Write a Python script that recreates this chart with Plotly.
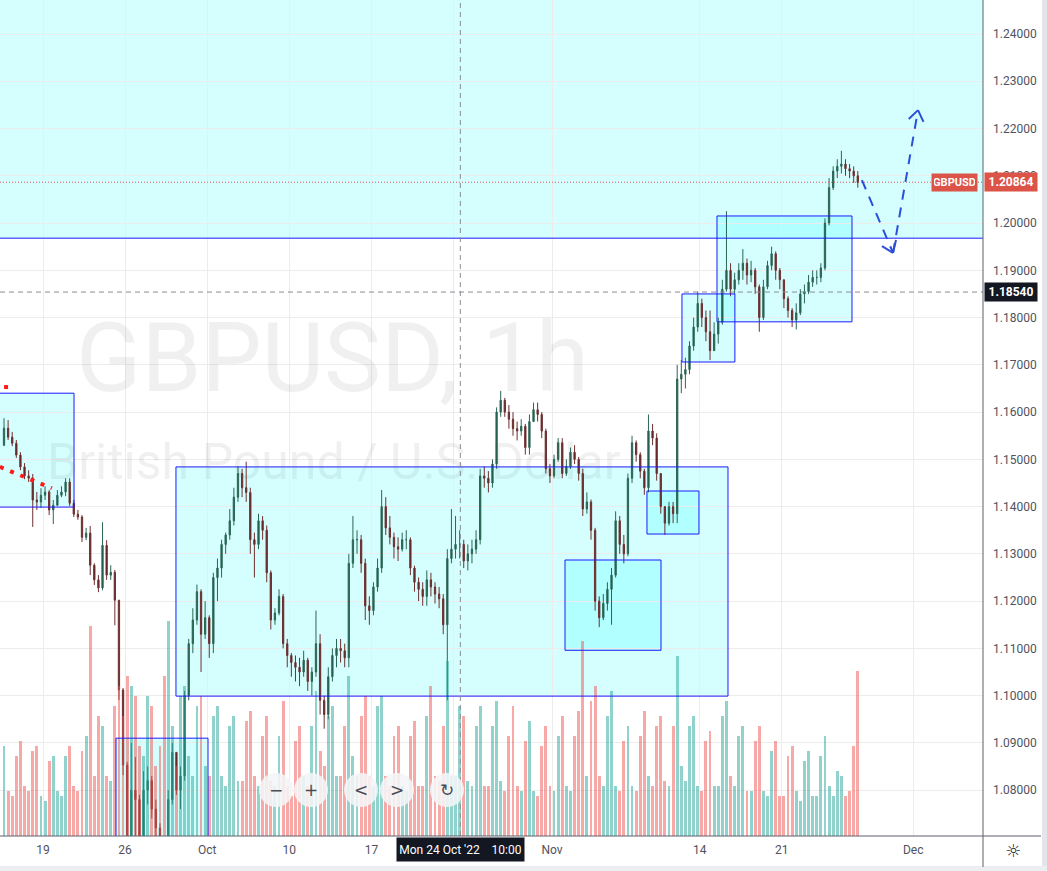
import plotly.graph_objects as go
import pandas as pd

# ---------------- data (6-hour bars) ----------------
first_open = 1.1530
close = [1.1566, 1.1547,
         1.1534, 1.1509, 1.1484, 1.1465,
         1.1460, 1.1414, 1.1410, 1.1424,
         1.1431, 1.1393, 1.1403, 1.1424,
         1.1431, 1.1452, 1.1407, 1.1384,
         1.1378, 1.1335, 1.1344, 1.1276,
         1.1245, 1.1228, 1.1318, 1.1255,
         1.1261, 1.1202, 1.1012, 1.0853,
         1.0700, 1.0800, 1.0780, 1.0690,
         1.0800, 1.0820, 1.0760, 1.0720,
         1.0640, 1.0600, 1.0780, 1.0880,
         1.0800, 1.0830, 1.1000, 1.1110,
         1.1160, 1.1220, 1.1130, 1.1165,
         1.1110, 1.1250, 1.1270, 1.1320,
         1.1340, 1.1370, 1.1420, 1.1470,
         1.1440, 1.1430, 1.1330, 1.1320,
         1.1370, 1.1350, 1.1260, 1.1160,
         1.1175, 1.1210, 1.1110, 1.1085,
         1.1070, 1.1060, 1.1050, 1.1075,
         1.1030, 1.1050, 1.1110, 1.0990,
         1.0960, 1.1040, 1.1085, 1.1100,
         1.1095, 1.1080, 1.1280, 1.1330,
         1.1330, 1.1280, 1.1190, 1.1180,
         1.1230, 1.1270, 1.1400, 1.1355,
         1.1335, 1.1315, 1.1310, 1.1330,
         1.1330, 1.1270, 1.1240, 1.1225,
         1.1210, 1.1245, 1.1230, 1.1215,
         1.1205, 1.1150, 1.1290, 1.1310,
         1.1320, 1.1320, 1.1285, 1.1300,
         1.1310, 1.1330, 1.1465, 1.1460,
         1.1450, 1.1490, 1.1600, 1.1625,
         1.1600, 1.1585, 1.1565, 1.1560,
         1.1570, 1.1525, 1.1580, 1.1605,
         1.1595, 1.1560, 1.1480, 1.1465,
         1.1500, 1.1535, 1.1470, 1.1485,
         1.1515, 1.1500, 1.1470, 1.1395,
         1.1410, 1.1350, 1.1200, 1.1165,
         1.1195, 1.1225, 1.1255, 1.1370,
         1.1320, 1.1300, 1.1460, 1.1535,
         1.1510, 1.1475, 1.1440, 1.1560,
         1.1545, 1.1470, 1.1400, 1.1365,
         1.1400, 1.1385, 1.1670, 1.1680,
         1.1690, 1.1740, 1.1780, 1.1830,
         1.1800, 1.1770, 1.1730, 1.1765,
         1.1790, 1.1860, 1.1900, 1.1860,
         1.1880, 1.1900, 1.1915, 1.1890,
         1.1900, 1.1865, 1.1800, 1.1865,
         1.1910, 1.1935, 1.1900, 1.1880,
         1.1840, 1.1815, 1.1795, 1.1810,
         1.1850, 1.1855, 1.1875, 1.1885,
         1.1885, 1.1905, 1.2000, 1.2075,
         1.2110, 1.2120, 1.2125, 1.2115,
         1.2110, 1.2100, 1.2086]
high = [1.1587, 1.1583,
        1.1558, 1.1541, 1.1515, 1.1492,
        1.1477, 1.1469, 1.1431, 1.1439,
        1.1443, 1.1435, 1.1414, 1.1435,
        1.1443, 1.1460, 1.1460, 1.1414,
        1.1393, 1.1382, 1.1355, 1.1359,
        1.1280, 1.1255, 1.1367, 1.1329,
        1.1276, 1.1266, 1.1202, 1.1016,
        1.0860, 1.0900, 1.0870, 1.0790,
        1.0840, 1.0850, 1.0830, 1.0780,
        1.0730, 1.0660, 1.0800, 1.0900,
        1.0880, 1.0850, 1.1010, 1.1120,
        1.1185, 1.1235, 1.1225, 1.1200,
        1.1170, 1.1260, 1.1290, 1.1330,
        1.1345, 1.1395, 1.1440, 1.1485,
        1.1480, 1.1495, 1.1440, 1.1345,
        1.1385, 1.1380, 1.1360, 1.1265,
        1.1185, 1.1225, 1.1215, 1.1120,
        1.1090, 1.1085, 1.1080, 1.1095,
        1.1080, 1.1060, 1.1180, 1.1130,
        1.1000, 1.1060, 1.1100, 1.1120,
        1.1120, 1.1110, 1.1300, 1.1380,
        1.1350, 1.1340, 1.1290, 1.1210,
        1.1240, 1.1290, 1.1435, 1.1420,
        1.1380, 1.1345, 1.1335, 1.1345,
        1.1350, 1.1335, 1.1275, 1.1250,
        1.1240, 1.1265, 1.1260, 1.1240,
        1.1230, 1.1215, 1.1310, 1.1395,
        1.1380, 1.1350, 1.1330, 1.1320,
        1.1330, 1.1350, 1.1480, 1.1485,
        1.1475, 1.1500, 1.1610, 1.1645,
        1.1630, 1.1615, 1.1600, 1.1580,
        1.1585, 1.1575, 1.1595, 1.1620,
        1.1620, 1.1600, 1.1565, 1.1490,
        1.1510, 1.1545, 1.1545, 1.1500,
        1.1525, 1.1530, 1.1505, 1.1480,
        1.1430, 1.1415, 1.1355, 1.1210,
        1.1215, 1.1240, 1.1270, 1.1390,
        1.1380, 1.1340, 1.1470, 1.1550,
        1.1540, 1.1515, 1.1480, 1.1595,
        1.1575, 1.1555, 1.1470, 1.1400,
        1.1410, 1.1410, 1.1700, 1.1710,
        1.1715, 1.1750, 1.1800, 1.1855,
        1.1840, 1.1815, 1.1815, 1.1790,
        1.1800, 1.1880, 1.2025, 1.1915,
        1.1895, 1.1915, 1.1945, 1.1925,
        1.1920, 1.1905, 1.1870, 1.1880,
        1.1920, 1.1950, 1.1940, 1.1905,
        1.1880, 1.1845, 1.1820, 1.1830,
        1.1860, 1.1870, 1.1890, 1.1900,
        1.1900, 1.1915, 1.2010, 1.2095,
        1.2120, 1.2135, 1.2153, 1.2135,
        1.2125, 1.2120, 1.2110]
low = [1.1528, 1.1541,
       1.1528, 1.1503, 1.1477, 1.1458,
       1.1452, 1.1357, 1.1393, 1.1397,
       1.1414, 1.1382, 1.1363, 1.1401,
       1.1420, 1.1422, 1.1401, 1.1378,
       1.1372, 1.1325, 1.1329, 1.1255,
       1.1234, 1.1219, 1.1223, 1.1245,
       1.1245, 1.1149, 1.0991, 1.0832,
       1.0350, 1.0650, 1.0700, 1.0650,
       1.0680, 1.0770, 1.0740, 1.0690,
       1.0610, 1.0540, 1.0580, 1.0770,
       1.0790, 1.0760, 1.0820, 1.0990,
       1.1090, 1.1150, 1.1050, 1.1120,
       1.1080, 1.1090, 1.1200, 1.1250,
       1.1300, 1.1330, 1.1360, 1.1410,
       1.1420, 1.1410, 1.1300, 1.1250,
       1.1310, 1.1330, 1.1240, 1.1140,
       1.1150, 1.1170, 1.1100, 1.1060,
       1.1040, 1.1030, 1.1020, 1.1040,
       1.1010, 1.1000, 1.1040, 1.0960,
       1.0930, 1.0950, 1.1030, 1.1060,
       1.1070, 1.1060, 1.1060, 1.1270,
       1.1300, 1.1260, 1.1160, 1.1150,
       1.1170, 1.1220, 1.1260, 1.1340,
       1.1320, 1.1290, 1.1285, 1.1305,
       1.1310, 1.1255, 1.1220, 1.1200,
       1.1190, 1.1190, 1.1210, 1.1195,
       1.1185, 1.1130, 1.0990, 1.1280,
       1.1290, 1.1290, 1.1270, 1.1265,
       1.1280, 1.1300, 1.1320, 1.1440,
       1.1430, 1.1440, 1.1480, 1.1590,
       1.1590, 1.1565, 1.1550, 1.1540,
       1.1550, 1.1510, 1.1510, 1.1580,
       1.1580, 1.1545, 1.1470, 1.1450,
       1.1460, 1.1495, 1.1460, 1.1465,
       1.1480, 1.1490, 1.1455, 1.1380,
       1.1385, 1.1330, 1.1180, 1.1145,
       1.1160, 1.1180, 1.1150, 1.1250,
       1.1300, 1.1280, 1.1295, 1.1450,
       1.1495, 1.1460, 1.1425, 1.1430,
       1.1530, 1.1455, 1.1385, 1.1340,
       1.1360, 1.1365, 1.1365, 1.1640,
       1.1650, 1.1680, 1.1730, 1.1770,
       1.1780, 1.1750, 1.1710, 1.1730,
       1.1745, 1.1785, 1.1855, 1.1845,
       1.1850, 1.1870, 1.1880, 1.1870,
       1.1875, 1.1850, 1.1770, 1.1795,
       1.1860, 1.1900, 1.1880, 1.1860,
       1.1820, 1.1800, 1.1780, 1.1775,
       1.1805, 1.1830, 1.1850, 1.1865,
       1.1870, 1.1875, 1.1900, 1.1995,
       1.2070, 1.2095, 1.2105, 1.2100,
       1.2095, 1.2085, 1.2075]
volume = [900, 450,
          400, 800, 950, 500,
          450, 850, 900, 400,
          350, 750, 800, 450,
          400, 800, 900, 500,
          450, 850, 1000, 2100,
          600, 1200, 1100, 600,
          550, 1300, 1500, 1200,
          1600, 1500, 1400, 900,
          800, 1400, 1300, 700,
          900, 1600, 2150, 1100,
          700, 1400, 1500, 800,
          600, 1300, 1400, 700,
          600, 1200, 1300, 600,
          500, 1100, 1200, 550,
          550, 1150, 1250, 600,
          500, 1000, 1200, 550,
          500, 1000, 1350, 500,
          400, 950, 1100, 600,
          500, 1100, 1450, 850,
          700, 1200, 1300, 600,
          600, 1100, 1600, 800,
          600, 1200, 1400, 600,
          500, 1300, 1400, 600,
          500, 1000, 1100, 500,
          450, 1000, 1150, 500,
          500, 1200, 1500, 600,
          550, 1100, 1750, 600,
          600, 1300, 1200, 550,
          500, 1100, 1300, 500,
          500, 1100, 1350, 550,
          450, 1000, 1300, 500,
          450, 950, 1150, 450,
          400, 900, 1100, 500,
          450, 1000, 1200, 500,
          450, 1000, 1250, 1950,
          600, 1350, 1500, 600,
          500, 1200, 1450, 500,
          450, 950, 1100, 500,
          450, 1000, 1250, 600,
          500, 1100, 1200, 550,
          500, 1100, 1800, 700,
          550, 1100, 1200, 500,
          450, 950, 1050, 500,
          500, 1200, 1350, 600,
          500, 1000, 1100, 450,
          450, 950, 1100, 450,
          400, 850, 950, 400,
          400, 800, 900, 450,
          350, 750, 850, 400,
          400, 800, 1000, 500,
          400, 650, 600, 400,
          450, 900, 1650]

x_tick_dates = ["2022-09-19", "2022-09-26", "2022-10-03", "2022-10-10", "2022-10-17",
                "2022-10-24", "2022-11-01", "2022-11-14", "2022-11-21", "2022-12-01"]
# the "24" label sits under the crosshair time label in the reference, so it is left blank
x_tick_text = ["19", "26", "Oct", "10", "17", "", "Nov", "14", "21", "Dec"]
y_ticks = [1.08, 1.09, 1.10, 1.11, 1.12, 1.13, 1.14, 1.15, 1.16, 1.17,
           1.18, 1.19, 1.20, 1.21, 1.22, 1.23, 1.24]

last_price = 1.20864
cross_time = "2022-10-24 10:00"
cross_price = 1.18540
zone_bottom = 1.1968

# rectangles: (start, end, price_low, price_high)
boxes = [
    ("2022-09-12 00:00", "2022-09-20 21:20", 1.1399, 1.1640),
    ("2022-09-29 02:20", "2022-11-15 17:15", 1.0999, 1.1484),
    ("2022-09-23 10:40", "2022-10-03 01:10", 1.0500, 1.0910),
    ("2022-11-01 19:00", "2022-11-09 15:20", 1.1096, 1.1287),
    ("2022-11-08 18:50", "2022-11-11 22:50", 1.1342, 1.1433),
    ("2022-11-10 22:00", "2022-11-16 03:20", 1.1706, 1.1850),
    ("2022-11-15 01:10", "2022-11-25 06:30", 1.1791, 1.2015),
]
red_dotted = [("2022-09-14 09:00", 1.1484), ("2022-09-19 13:00", 1.1439)]
red_dot = ("2022-09-14 18:00", 1.1653)
arrow_path = [("2022-11-25 21:00", 1.2091), ("2022-11-29 18:30", 1.1937), ("2022-12-01 07:00", 1.2239)]
arrow_heads = [
    [("2022-11-29 02:20", 1.1951), ("2022-11-29 18:30", 1.1937), ("2022-11-29 22:50", 1.1964)],
    [("2022-11-30 17:30", 1.2220), ("2022-12-01 07:00", 1.2239), ("2022-12-01 15:00", 1.2214)],
]

# ---------------- figure ----------------
times = pd.date_range("2022-09-14 15:00", "2022-11-25 15:00", freq="6h")
times = times[times.weekday < 5]
assert len(times) == len(close) == len(high) == len(low) == len(volume)
opens = [first_open] + close[:-1]

vol_colors = ["rgba(38,166,154,0.5)" if c >= o else "rgba(239,83,80,0.5)"
              for o, c in zip(opens, close)]

W, H = 1047, 871
L, R, T, B = 0, 64, 0, 35
PW, PH = W - L - R, H - T - B

fig = go.Figure()
fig.add_trace(go.Bar(x=times, y=volume, marker=dict(color=vol_colors, line=dict(width=0)),
                     width=0.7 * 6 * 3600 * 1000, yaxis="y2", hoverinfo="skip"))
fig.add_trace(go.Candlestick(
    x=times, open=opens, high=high, low=low, close=close,
    increasing=dict(line=dict(color="#2b6656", width=1), fillcolor="#1e5a49"),
    decreasing=dict(line=dict(color="#6e3030", width=1), fillcolor="#5c1f1f"),
    whiskerwidth=0, yaxis="y"))
fig.add_trace(go.Scatter(x=[red_dot[0]], y=[red_dot[1]], mode="markers",
                         marker=dict(symbol="square", size=4, color="#ff1a1a"), hoverinfo="skip"))

shapes = []
CYAN = "rgba(0,255,255,0.165)"
BLUE = "#1a1aff"
shapes.append(dict(type="rect", xref="paper", yref="y", x0=0, x1=1, y0=zone_bottom, y1=1.30,
                   fillcolor=CYAN, line=dict(width=0), layer="below"))
shapes.append(dict(type="line", xref="paper", yref="y", x0=0, x1=1, y0=zone_bottom, y1=zone_bottom,
                   line=dict(color=BLUE, width=1), layer="above"))
for x0, x1, y0, y1 in boxes:
    shapes.append(dict(type="rect", xref="x", yref="y", x0=x0, x1=x1, y0=y0, y1=y1,
                       fillcolor=CYAN, line=dict(width=0), layer="below"))
    shapes.append(dict(type="rect", xref="x", yref="y", x0=x0, x1=x1, y0=y0, y1=y1,
                       fillcolor="rgba(0,0,0,0)", line=dict(color=BLUE, width=1), layer="above"))

# red dotted trend line
shapes.append(dict(type="line", xref="x", yref="y", x0=red_dotted[0][0], y0=red_dotted[0][1],
                   x1=red_dotted[1][0], y1=red_dotted[1][1],
                   line=dict(color="#ff1a1a", width=4, dash="4px,7px"), layer="above"))

# last price dotted line
shapes.append(dict(type="line", xref="paper", yref="y", x0=0, x1=1, y0=last_price, y1=last_price,
                   line=dict(color="#e0534a", width=1, dash="1px,2px"), layer="above"))
# crosshair
shapes.append(dict(type="line", xref="x", yref="paper", x0=cross_time, x1=cross_time, y0=0, y1=1,
                   line=dict(color="#8a8d96", width=1, dash="5px,4px"), layer="above"))
shapes.append(dict(type="line", xref="paper", yref="y", x0=0, x1=1, y0=cross_price, y1=cross_price,
                   line=dict(color="#8a8d96", width=1, dash="5px,4px"), layer="above"))

# dashed forecast arrow
ARROW = "#2a4fd8"
for (xa, ya), (xb, yb) in zip(arrow_path[:-1], arrow_path[1:]):
    shapes.append(dict(type="line", xref="x", yref="y", x0=xa, y0=ya, x1=xb, y1=yb,
                       line=dict(color=ARROW, width=2, dash="10px,8px"), layer="above"))
for head in arrow_heads:
    for (xa, ya), (xb, yb) in zip(head[:-1], head[1:]):
        shapes.append(dict(type="line", xref="x", yref="y", x0=xa, y0=ya, x1=xb, y1=yb,
                           line=dict(color=ARROW, width=2), layer="above"))

# frame lines (price axis border, time axis line)
AX = "#5d606b"
shapes.append(dict(type="line", xref="paper", yref="paper", x0=1, x1=1, y0=-31 / PH, y1=1,
                   line=dict(color=AX, width=1), layer="above"))
shapes.append(dict(type="line", xref="paper", yref="paper", x0=0, x1=(1041 - L) / PW, y0=0, y1=0,
                   line=dict(color=AX, width=1), layer="above"))
shapes.append(dict(type="rect", xref="paper", yref="paper", x0=(1042 - L) / PW, x1=W / PW + 0.01,
                   y0=-B / PH, y1=1, fillcolor="#e3e5ea", line=dict(width=0), layer="below"))
shapes.append(dict(type="rect", xref="paper", yref="paper", x0=0, x1=W / PW + 0.01,
                   y0=-B / PH - 0.01, y1=-30 / PH, fillcolor="#eceef2", line=dict(width=0), layer="below"))

# navigation buttons overlay
btn_centers = [276, 311, 361, 397, 447]
btn_glyphs = ["\u2212", "+", "<", ">", "\u21bb"]
btn_y = 790
rad = 17
for cx in btn_centers:
    shapes.append(dict(type="circle", xref="paper", yref="paper",
                       x0=(cx - rad) / PW, x1=(cx + rad) / PW,
                       y0=(PH - (btn_y + rad)) / PH, y1=(PH - (btn_y - rad)) / PH,
                       fillcolor="rgba(244,245,247,0.88)", line=dict(width=0), layer="above"))

annotations = []
FONT = "Roboto"
def ann(**kw):
    kw.setdefault("showarrow", False)
    kw.setdefault("xanchor", "center")
    kw.setdefault("yanchor", "middle")
    annotations.append(kw)

ann(xref="paper", yref="paper", x=332 / PW, y=(PH - 358) / PH, text="GBPUSD, 1h",
    font=dict(family=FONT, size=96, color="rgba(90,90,90,0.09)"))
ann(xref="paper", yref="paper", x=334 / PW, y=(PH - 462) / PH, text="British Pound / U.S. Dollar",
    font=dict(family=FONT, size=50, color="rgba(90,90,90,0.09)"))
for cx, g in zip(btn_centers, btn_glyphs):
    ann(xref="paper", yref="paper", x=cx / PW, y=(PH - btn_y) / PH, text=g,
        font=dict(family="DejaVu Sans", size=17, color="#4a4c55"))
ann(xref="paper", yref="y", x=954.5 / PW, y=last_price, text="<b>GBPUSD</b>",
    bgcolor="#dc5347", borderpad=2, width=41, height=13,
    font=dict(family=FONT, size=11, color="white"))
ann(xref="paper", yref="y", x=1011 / PW, y=last_price, text="<b>%.5f</b>" % last_price,
    bgcolor="#dc5347", borderpad=2, width=48, height=14,
    font=dict(family=FONT, size=12, color="white"))
ann(xref="paper", yref="y", x=1011 / PW, y=cross_price, text="<b>%.5f</b>" % cross_price,
    bgcolor="#131722", borderpad=2, width=48, height=14,
    font=dict(family=FONT, size=12, color="white"))
ann(xref="x", yref="paper", x=cross_time, y=-13.5 / PH,
    text="Mon 24 Oct '22\u00a0\u00a0\u00a0\u00a010:00",
    bgcolor="#131722", borderpad=2, width=123, height=19,
    font=dict(family=FONT, size=12, color="white"))
ann(xref="paper", yref="paper", x=1013 / PW, y=-14 / PH, text="\u263c",
    font=dict(family="DejaVu Sans", size=18, color="#2a2e39"))

GRID = "#ececec"
fig.update_layout(
    width=W, height=H, margin=dict(l=L, r=R, t=T, b=B, autoexpand=False),
    paper_bgcolor="white", plot_bgcolor="white", showlegend=False,
    shapes=shapes, annotations=annotations, bargap=0, boxgap=0.55,
    xaxis=dict(type="date", range=["2022-09-14 09:08", "2022-12-07 06:00"],
               rangebreaks=[dict(bounds=["sat", "mon"])],
               rangeslider=dict(visible=False),
               tickvals=x_tick_dates, ticktext=x_tick_text, ticks="", showline=False,
               showgrid=True, gridcolor=GRID, zeroline=False, ticklabelstandoff=5,
               tickfont=dict(family=FONT, size=12, color="#50535e")),
    yaxis=dict(side="right", range=[1.0703, 1.2472], tickvals=y_ticks,
               ticktext=["%.5f" % v for v in y_ticks], ticks="", showline=False,
               showgrid=True, gridcolor=GRID, zeroline=False, ticklabelstandoff=9,
               tickfont=dict(family=FONT, size=12, color="#50535e")),
    yaxis2=dict(overlaying="y", range=[0, 8360], visible=False, showgrid=False),
)

fig.write_html("out.html", config={"displayModeBar": False},
               post_script="document.body.style.margin='0';")
